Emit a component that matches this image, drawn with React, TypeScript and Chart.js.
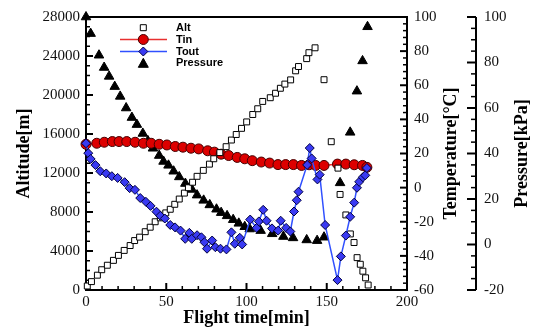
import React, { useEffect, useRef } from "react";
import { Chart, registerables } from "chart.js";

Chart.register(...registerables);

// ---------- data ----------
const altTime = [0.8, 3.4, 7.1, 9.8, 13.3, 17.1, 20.2, 23.8, 27.5, 30.3, 33.4, 36.9, 40.0, 43.1, 46.3, 49.7, 52.5, 55.3, 58.1, 61.3, 63.8, 66.4, 69.2, 73.1, 76.9, 79.6, 83.4, 87.3, 90.6, 93.6, 96.9, 100.1, 103.9, 107.0, 110.1, 114.8, 118.1, 121.1, 123.9, 127.5, 130.6, 132.4, 137.5, 138.9, 142.7, 148.3, 152.8, 157.0, 158.3, 161.9, 164.7, 167.0, 168.9, 170.9, 172.5, 174.2, 175.8];
const altValues = [410, 860, 1520, 2080, 2540, 3040, 3550, 4060, 4560, 5070, 5420, 5980, 6440, 7000, 7400, 7910, 8280, 8790, 9330, 9940, 10490, 11050, 11660, 12270, 12910, 13460, 14090, 14700, 15380, 15950, 16580, 17240, 18000, 18590, 19340, 19720, 20180, 20690, 21120, 21550, 22480, 22920, 23730, 24340, 24840, 21570, 15210, 12500, 9800, 7700, 5750, 4870, 3320, 2640, 1930, 1250, 510];

const tinTime = [0, 6.7, 11.4, 16.4, 20.6, 25.4, 30.6, 35.8, 40.6, 45.6, 50.4, 55.6, 60.4, 65.4, 70.2, 75.8, 80.0, 84.2, 88.9, 94.2, 98.9, 103.6, 109.2, 114.4, 119.6, 124.4, 129.2, 134.3, 139.0, 143.1, 148.3, 156.7, 161.9, 167.1, 172.3, 175.0];
const tinValues = [25.4, 26.0, 26.6, 27.0, 27.0, 27.0, 26.6, 26.0, 26.0, 25.4, 25.0, 24.1, 23.7, 23.1, 22.7, 21.6, 20.8, 19.6, 18.8, 17.7, 16.9, 15.8, 15.0, 14.4, 13.5, 13.5, 13.5, 13.0, 13.4, 13.0, 13.0, 13.8, 13.8, 13.4, 13.0, 11.9];

const toutTime = [0, 1.4, 2.9, 5.9, 8.9, 12.6, 16.1, 19.7, 24.1, 27.2, 30.5, 33.8, 37.3, 40.2, 43.9, 46.3, 49.1, 52.5, 55.5, 58.9, 61.8, 64.4, 65.9, 69.2, 71.9, 73.8, 75.4, 78.6, 80.6, 83.8, 87.5, 90.6, 92.7, 95.8, 97.3, 102.3, 106.3, 107.7, 110.4, 112.5, 115.9, 119.7, 121.3, 124.7, 127.3, 129.6, 131.3, 132.4, 137.8, 139.4, 140.6, 144.2, 145.6, 149.0, 156.7, 158.8, 161.9, 164.6, 167.1, 168.8, 170.2, 172.5, 174.0, 175.0];
const toutValues = [26.0, 20.2, 16.8, 13.2, 9.6, 8.3, 6.7, 5.7, 3.2, -0.3, -1.3, -6.1, -8.3, -10.7, -14.1, -16.5, -18.1, -21.9, -23.3, -25.2, -30.0, -26.5, -30.0, -27.9, -29.1, -32.0, -35.8, -31.0, -34.9, -35.8, -36.2, -26.2, -32.9, -29.4, -33.3, -18.7, -23.6, -19.8, -13.0, -19.4, -23.9, -25.2, -19.4, -23.6, -25.7, -14.0, -7.4, -2.4, 13.3, 23.2, 17.1, 4.8, 7.6, -21.9, -54.2, -40.3, -28.1, -17.1, -8.8, -0.1, 3.4, 6.1, 7.2, 11.5];

const presTime = [0, 2.9, 8.1, 11.3, 14.4, 17.9, 21.3, 25.0, 28.6, 31.7, 35.4, 38.6, 41.7, 45.6, 48.3, 51.4, 54.6, 58.1, 61.9, 66.0, 69.2, 73.3, 77.1, 81.3, 84.2, 87.9, 91.7, 95.2, 98.9, 102.0, 108.8, 116.0, 123.0, 129.0, 137.5, 144.0, 148.3, 158.3, 164.6, 168.8, 172.3, 175.4];
const presValues = [100, 92.7, 83.2, 77.8, 73.9, 69.4, 65.1, 60.0, 55.8, 52.7, 48.8, 45.5, 42.3, 39.1, 36.5, 34.8, 32.2, 29.7, 26.8, 24.2, 21.7, 19.4, 17.4, 15.5, 14.0, 12.6, 10.9, 9.3, 7.8, 6.8, 6.1, 4.7, 3.5, 2.9, 2.0, 1.7, 3.2, 27.1, 49.3, 67.4, 80.7, 95.7];

const seriesNames = ["Alt", "Tin", "Tout", "Pressure"];
const axisTitles = { x: "Flight time[min]", alt: "Altitude[m]", temp: "Temperature[°C]", pres: "Pressure[kPa]" };

const SERIF = '"Liberation Serif", "Times New Roman", serif';
const SANS = '"Liberation Sans", Arial, sans-serif';

const TIN_FILL = "#dd0000";
const TIN_LINE = "#e83030";
const TOUT_FILL = "#3a3af2";
const TOUT_LINE = "#3050ff";

function pts(xs: number[], ys: number[]) {
  return xs.map((x, i) => ({ x, y: ys[i] }));
}

function line(ctx: CanvasRenderingContext2D, x1: number, y1: number, x2: number, y2: number, w: number) {
  ctx.lineWidth = w;
  ctx.beginPath();
  ctx.moveTo(x1, y1);
  ctx.lineTo(x2, y2);
  ctx.stroke();
}

function marker(ctx: CanvasRenderingContext2D, kind: string, x: number, y: number) {
  ctx.save();
  ctx.lineWidth = 1;
  ctx.beginPath();
  if (kind === "rect") {
    ctx.fillStyle = "#fff";
    ctx.strokeStyle = "#000";
    ctx.rect(x - 3, y - 3, 6, 6);
  } else if (kind === "circle") {
    ctx.fillStyle = TIN_FILL;
    ctx.strokeStyle = "#440000";
    ctx.arc(x, y, 5, 0, Math.PI * 2);
  } else if (kind === "diamond") {
    ctx.fillStyle = TOUT_FILL;
    ctx.strokeStyle = "#000040";
    ctx.moveTo(x, y - 4.5);
    ctx.lineTo(x + 4.5, y);
    ctx.lineTo(x, y + 4.5);
    ctx.lineTo(x - 4.5, y);
    ctx.closePath();
  } else {
    ctx.fillStyle = "#000";
    ctx.strokeStyle = "#000";
    ctx.moveTo(x, y - 5);
    ctx.lineTo(x + 5, y + 4);
    ctx.lineTo(x - 5, y + 4);
    ctx.closePath();
  }
  ctx.fill();
  ctx.stroke();
  ctx.restore();
}

const framePlugin = {
  id: "frameTicks",
  beforeDatasetsDraw(chart: any) {
    const { ctx, chartArea: a, scales } = chart;
    ctx.save();
    ctx.strokeStyle = "#000";
    for (let v = 0; v <= 200; v += 10) {
      const px = scales.x.getPixelForValue(v);
      const major = v % 50 === 0;
      line(ctx, px, a.bottom, px, a.bottom - (major ? 7 : 4), major ? 2 : 1.5);
    }
    for (let v = 0; v <= 28000; v += 1000) {
      const py = scales.y.getPixelForValue(v);
      const major = v % 4000 === 0;
      line(ctx, a.left, py, a.left + (major ? 7 : 4), py, major ? 2 : 1.5);
    }
    for (let v = -60; v <= 100; v += 4) {
      const py = scales.yT.getPixelForValue(v);
      const major = Math.abs(v % 20) === 0;
      line(ctx, a.right, py, a.right - (major ? 7 : 4), py, major ? 2 : 1.5);
    }
    const px0 = scales.yP.left;
    for (let v = -20; v <= 100; v += 5) {
      const py = scales.yP.getPixelForValue(v);
      const major = Math.abs(v % 20) === 0;
      line(ctx, px0, py, px0 - (major ? 9 : 5), py, major ? 2 : 1.5);
    }
    ctx.lineWidth = 2;
    ctx.strokeRect(a.left, a.top, a.right - a.left, a.bottom - a.top);
    line(ctx, px0, a.top, px0, a.bottom, 2);
    ctx.restore();
  },
  afterDraw(chart: any) {
    const { ctx, chartArea: a } = chart;
    ctx.save();
    ctx.fillStyle = "#000";
    ctx.font = `bold 18px ${SERIF}`;
    ctx.textAlign = "center";
    ctx.textBaseline = "middle";
    const cy = (a.top + a.bottom) / 2;
    ctx.fillText(axisTitles.x, (a.left + a.right) / 2, 318);
    const rot = (t: string, x: number, y: number) => {
      ctx.save();
      ctx.translate(x, y);
      ctx.rotate(-Math.PI / 2);
      ctx.fillText(t, 0, 0);
      ctx.restore();
    };
    rot(axisTitles.alt, 24, cy);
    rot(axisTitles.temp, 451, cy);
    rot(axisTitles.pres, 522, cy);

    // legend
    const rows = [27.7, 39.5, 51.5, 63.3];
    const kinds = ["rect", "circle", "diamond", "triangle"];
    ctx.strokeStyle = TIN_LINE;
    line(ctx, 120, rows[1], 167, rows[1], 1.5);
    ctx.strokeStyle = TOUT_LINE;
    line(ctx, 120, rows[2], 167, rows[2], 1.5);
    rows.forEach((y, i) => marker(ctx, kinds[i], 143.3, y));
    ctx.font = `bold 11px ${SANS}`;
    ctx.textAlign = "left";
    ctx.fillStyle = "#000";
    rows.forEach((y, i) => ctx.fillText(seriesNames[i], 176, y));
    ctx.restore();
  },
};

const plain = (v: any) => String(v);

export default function App() {
  const ref = useRef<HTMLCanvasElement | null>(null);
  useEffect(() => {
    if (!ref.current) return;
    const tickFont = { family: SERIF, size: 15 };
    const grid = { display: false, drawTicks: false };
    const chart = new Chart(ref.current, {
      type: "scatter",
      data: {
        datasets: [
          {
            label: "Tout",
            data: pts(toutTime, toutValues),
            yAxisID: "yT",
            showLine: true,
            borderColor: TOUT_LINE,
            borderWidth: 1.5,
            pointStyle: "rectRot",
            pointRadius: 4.5,
            pointBackgroundColor: TOUT_FILL,
            pointBorderColor: "#000040",
            pointBorderWidth: 1,
            order: 0,
            clip: false,
          },
          {
            label: "Alt",
            data: pts(altTime, altValues),
            yAxisID: "y",
            showLine: false,
            pointStyle: "rect",
            pointRadius: 4.2,
            pointBackgroundColor: "#ffffff",
            pointBorderColor: "#000000",
            pointBorderWidth: 1,
            order: 1,
            clip: false,
          },
          {
            label: "Tin",
            data: pts(tinTime, tinValues),
            yAxisID: "yT",
            showLine: true,
            borderColor: TIN_LINE,
            borderWidth: 1.5,
            pointStyle: "circle",
            pointRadius: 5,
            pointBackgroundColor: TIN_FILL,
            pointBorderColor: "#440000",
            pointBorderWidth: 1,
            order: 2,
            clip: false,
          },
          {
            label: "Pressure",
            data: pts(presTime, presValues),
            yAxisID: "yP",
            showLine: false,
            pointStyle: "triangle",
            pointRadius: 5.5,
            pointBackgroundColor: "#000000",
            pointBorderColor: "#000000",
            pointBorderWidth: 1,
            order: 3,
            clip: false,
          },
        ],
      },
      options: {
        responsive: false,
        animation: false,
        events: [],
        layout: { padding: { top: 14, left: 0, right: 0, bottom: 0 } },
        plugins: { legend: { display: false }, tooltip: { enabled: false } },
        scales: {
          x: {
            type: "linear",
            position: "bottom",
            min: 0,
            max: 200,
            grid,
            border: { display: false },
            ticks: { stepSize: 50, font: tickFont, color: "#111", padding: 3, autoSkip: false, maxRotation: 0, callback: plain },
            afterFit: (s: any) => { s.height = 40; },
          },
          y: {
            type: "linear",
            position: "left",
            min: 0,
            max: 28000,
            grid,
            border: { display: false },
            ticks: { stepSize: 4000, font: tickFont, color: "#111", padding: 6, autoSkip: false, callback: plain },
            afterFit: (s: any) => { s.width = 86; },
          },
          yT: {
            type: "linear",
            position: "right",
            min: -60,
            max: 100,
            grid,
            border: { display: false },
            ticks: { stepSize: 20, font: tickFont, color: "#111", padding: 7, autoSkip: false, callback: plain },
            afterFit: (s: any) => { s.width = 69; },
          },
          yP: {
            type: "linear",
            position: "right",
            min: -20,
            max: 100,
            grid,
            border: { display: false },
            ticks: { stepSize: 20, font: tickFont, color: "#111", padding: 8, autoSkip: false, callback: plain },
            afterFit: (s: any) => { s.width = 59; },
          },
        },
      },
      plugins: [framePlugin],
    } as any);
    return () => chart.destroy();
  }, []);
  return (
    <div style={{ position: "fixed", left: 0, top: 0, width: 535, height: 330, background: "#fff" }}>
      <canvas ref={ref} width={535} height={330} />
    </div>
  );
}
